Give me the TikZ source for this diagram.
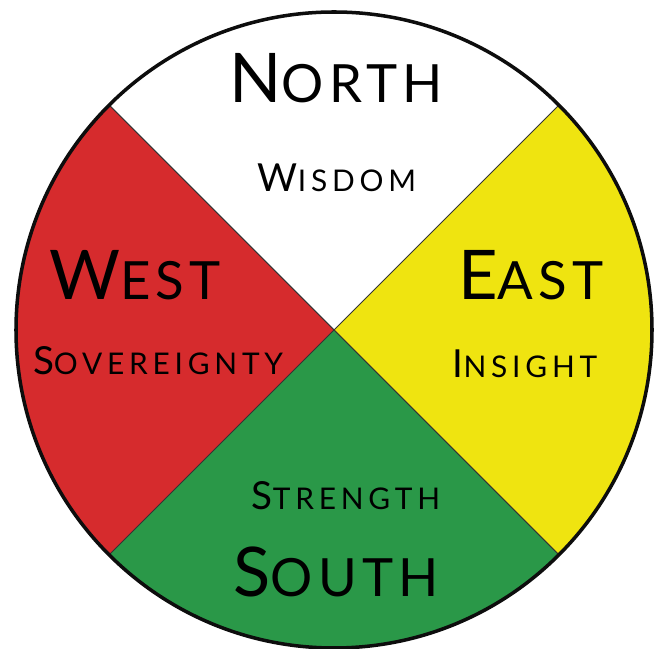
\documentclass[tikz,border=0pt]{standalone}
\usepackage{fontspec}
\setmainfont{Lato}
\usepackage{xcolor}
\usepackage{tikz}
\usetikzlibrary{calc}
\definecolor{color_west}{rgb}{0.839216,0.168627,0.176471}
\definecolor{color_east}{rgb}{0.937255,0.894118,0.062745}
\definecolor{color_south}{rgb}{0.164706,0.596078,0.282353}
\definecolor{color_rim}{rgb}{0.05,0.05,0.05}

% faux petites capitales : initiale + reste
\newcommand{\bigdir}[2]{{\addfontfeatures{LetterSpace=10}{\fontsize{39}{39}\selectfont #1}{\fontsize{30}{30}\selectfont #2}}}
\newcommand{\smalldir}[2]{{\addfontfeatures{LetterSpace=16}{\fontsize{22}{22}\selectfont #1}{\fontsize{17}{17}\selectfont #2}}}

\tikzset{
	dirlabel/.style={inner sep=0pt, anchor=base, text=black},
	divider/.style={draw=black!80, line width=0.6pt}
}

\begin{document}
\begin{tikzpicture}[x=0.02cm, y=0.02cm]
			\useasboundingbox (0,0) rectangle (660,649);
			\coordinate (c) at (334,319);
			
			% Quatre secteurs
			\fill[white] (c) -- ++(45:319) arc (45:135:319) -- cycle;
			\fill[color_west] (c) -- ++(135:319) arc (135:225:319) -- cycle;
			\fill[color_south] (c) -- ++(225:319) arc (225:315:319) -- cycle;
			\fill[color_east] (c) -- ++(315:319) arc (315:405:319) -- cycle;
			
			% Diagonales
			\coordinate (ne) at ($(c)+(45:319)$);
			\coordinate (nw) at ($(c)+(135:319)$);
			\coordinate (sw) at ($(c)+(225:319)$);
			\coordinate (se) at ($(c)+(315:319)$);
			\draw[divider] (nw) -- (se);
			\draw[divider] (ne) -- (sw);
			
			% Contour
			\draw[color_rim, line width=2pt] (c) circle (318);
			
			% Textes
			\node[dirlabel] (north) at (336,546) {\bigdir{N}{ORTH}};
			\node[dirlabel] (wisdom) at (337,457) {\smalldir{W}{ISDOM}};
			\node[dirlabel] (west) at (135,349) {\bigdir{W}{EST}};
			\node[dirlabel] (sovereignty) at (158,274) {\smalldir{S}{OVEREIGNTY}};
			\node[dirlabel] (east) at (531,349) {\bigdir{E}{AST}};
			\node[dirlabel] (insight) at (525,271) {\smalldir{I}{NSIGHT}};
			\node[dirlabel] (strength) at (346,139) {\smalldir{S}{TRENGTH}};
			\node[dirlabel] (south) at (336,52) {\bigdir{S}{OUTH}};
		\end{tikzpicture}
\end{document}
